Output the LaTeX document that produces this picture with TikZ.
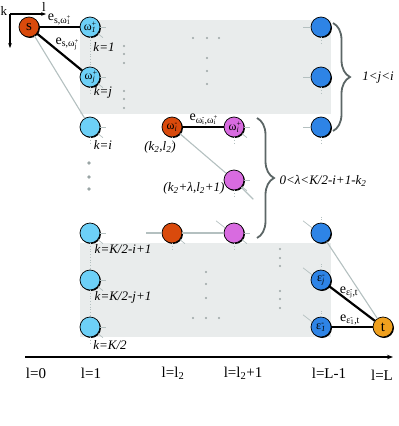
\documentclass[tikz,border=0pt]{standalone}
\usepackage{fontspec}
\setmainfont{Liberation Serif}
\usetikzlibrary{decorations.pathreplacing,shadows,arrows.meta}

\definecolor{sorange}{HTML}{D94A0C}
\definecolor{lblue}{HTML}{6DD0F7}
\definecolor{dblue}{HTML}{2E84E6}
\definecolor{mgenta}{HTML}{D86BE0}
\definecolor{torange}{HTML}{F0A01E}
\definecolor{panel}{HTML}{E9ECEC}
\definecolor{edgegray}{HTML}{B4C0C0}
\definecolor{bracegray}{HTML}{5C6666}
\definecolor{dotgray}{HTML}{9AA5A5}

% super- and subscript stacked
\newcommand{\ud}[2]{\rlap{\textsuperscript{#1}}\textsubscript{#2}}

\begin{document}
\begin{tikzpicture}[x=1pt,y=-1pt,
  vtx/.style={circle, draw=black, line width=0.7pt, minimum size=20pt, inner sep=0pt,
    font=\fontsize{12}{12}\selectfont,
    general shadow={fill=black, shadow xshift=1pt, shadow yshift=-1pt}},
  heavy/.style={line width=2.2pt, black},
  light/.style={line width=1.1pt, edgegray},
  stub/.style={line width=0.7pt, edgegray},
  lbl/.style={font=\fontsize{13}{13}\selectfont\itshape, inner sep=1pt},
  axlbl/.style={font=\fontsize{15}{15}\selectfont, inner sep=1pt},
  elbl/.style={font=\fontsize{14}{14}\selectfont, inner sep=1pt},
  curly/.style={decorate, decoration={brace, amplitude=17pt, aspect=0.5},
    line width=1.8pt, bracegray}]
  \useasboundingbox (0,0) rectangle (399,426);

  % shaded panels
  \fill[panel] (80,20) rectangle (331,114);
  \fill[panel] (80,243) rectangle (331,337);

  % k/l axes
  \coordinate (org) at (10,14);
  \coordinate (lend) at (46,14);
  \coordinate (kend) at (10,48);
  \draw[line width=1.2pt, -{Stealth[length=5pt]}] (org) -- (lend);
  \draw[line width=1.2pt, -{Stealth[length=5pt]}] (org) -- (kend);
  \node[axlbl, font=\fontsize{13}{13}\selectfont] (kax) at (4,11) {k};
  \node[axlbl, font=\fontsize{13}{13}\selectfont] (lax) at (44,6.5) {l};

  % vertices
  \node[vtx, fill=sorange, font=\fontsize{15}{15}\selectfont] (s) at (29,27) {s};
  \node[vtx, fill=lblue] (wone) at (90,27) {ω\ud{+}{\itshape 1}};
  \node[vtx, fill=lblue] (wj) at (90,77) {ω\ud{+}{\itshape j}};
  \node[vtx, fill=lblue] (ki) at (90,127) {};
  \node[vtx, fill=sorange] (wim) at (172,127) {ω\ud{-}{\itshape i}};
  \node[vtx, fill=mgenta] (wip) at (234,127) {ω\ud{+}{\itshape i}};
  \node[vtx, fill=mgenta] (lam) at (234,180) {};
  \node[vtx, fill=lblue] (kii) at (90,233) {};
  \node[vtx, fill=sorange] (ob) at (172,233) {};
  \node[vtx, fill=mgenta] (mb) at (234,233) {};
  \node[vtx, fill=lblue] (kjj) at (90,280) {};
  \node[vtx, fill=lblue] (kk) at (90,327) {};
  \foreach \y/\n in {27/ra, 77/rb, 127/rc, 233/rd}
    \node[vtx, fill=dblue] (\n) at (321,\y) {};
  \node[vtx, fill=dblue] (ej) at (321,280) {ε\ud{-}{\itshape j}};
  \node[vtx, fill=dblue] (eone) at (321,327) {ε\ud{-}{\itshape 1}};
  \node[vtx, fill=torange, font=\fontsize{15}{15}\selectfont] (t) at (383,327) {t};

  % short stubs of the lattice
  \foreach \n in {wone,wj,ki,kii,kjj,kk,wim,wip,ob,mb,lam} {
    \draw[stub] (\n.east) -- ++(6,0);
    \draw[stub] (\n.-40) -- ++(5,4);
    \draw[stub, dotted] (\n.south) -- ++(0,7);
  }
  \foreach \n in {ra,rb,rc} {
    \draw[stub] (\n.west) -- ++(-8,0);
    \draw[stub, dotted] (\n.south) -- ++(0,7);
  }
  \foreach \n in {rd,ej,eone} {
    \draw[stub] (\n.150) -- ++(-9,-7);
    \draw[stub, dotted] (\n.north) -- ++(0,-7);
  }
  \draw[stub] (mb.150) -- ++(-9,-7);
  \draw[stub, dotted] (kii) -- (kjj);
  \draw[stub, dotted] (kjj) -- (kk);
  \draw[stub, dotted] (wone) -- (wj);

  % gray edges
  \draw[light] (s) -- (ki);
  \draw[light] (wim) -- (lam);
  \draw[light] (lam.-45) -- ++(12,12);
  \draw[light] (ob) -- (mb);
  \draw[light] (ob.west) -- ++(-16,0);
  \draw[light] (rd) -- (t);

  % path edges
  \draw[heavy] (s) -- (wone)
    node[midway, above=0pt, elbl] {e\textsubscript{s,ω\ud{+}{1}}};
  \draw[heavy] (s) -- (wj)
    node[midway, above, xshift=7pt, elbl] {e\textsubscript{s,ω\ud{+}{j}}};
  \draw[heavy] (wim) -- (wip)
    node[midway, above, elbl] {e\textsubscript{ω\ud{-}{i},ω\ud{+}{i}}};
  \draw[heavy] (ej) -- (t)
    node[midway, above=3pt, xshift=-3pt, elbl] {e\textsubscript{ε\ud{-}{j},t}};
  \draw[heavy] (eone) -- (t)
    node[midway, above, xshift=-2pt, elbl] {e\textsubscript{ε\ud{-}{1},t}};

  % dots
  \foreach \x/\y in {193/38, 207/38, 219/38, 207/58, 207/71, 207/84,
      124/46, 124/54, 124/63, 124/91, 124/99, 124/108,
      206/272, 206/284, 206/298, 193/318, 206/318, 219/318,
      280/249, 280/258, 280/266, 280/291, 280/299, 280/308}
    \fill[dotgray] (\x,\y) circle (1.2pt);
  \foreach \y in {163,177,189}
    \fill[dotgray] (89,\y) circle (1.8pt);

  % vertex labels
  \node[lbl] (lone) at (104,47) {k=1};
  \node[lbl] (lj) at (103,92) {k=j};
  \node[lbl] (li) at (103,145) {k=i};
  \node[lbl] (lkl) at (160,147) {(k\textsubscript{2},l\textsubscript{2})};
  \node[lbl] (lkll) at (194,188) {(k\textsubscript{2}+λ,l\textsubscript{2}+1)};
  \node[lbl] (lii) at (123,249) {k=K/2-i+1};
  \node[lbl] (ljj) at (123,297) {k=K/2-j+1};
  \node[lbl] (lk) at (110,345) {k=K/2};

  % braces
  \draw[curly] (333,23) -- (333,131);
  \node[lbl] (rj) at (378,78) {1<j<i};
  \draw[curly] (257,118) -- (257,238);
  \node[lbl] (rl) at (323,181) {0<λ<K/2-i+1-k\textsubscript{2}};

  % l axis
  \coordinate (axs) at (25,357);
  \coordinate (axe) at (393,357);
  \draw[line width=1.2pt, -{Stealth[length=6pt]}] (axs) -- (axe);
  \node[axlbl] (lzero) at (36,373) {l=0};
  \node[axlbl] (lonex) at (91,373) {l=1};
  \node[axlbl] (ltwo) at (173,373) {l=l\textsubscript{2}};
  \node[axlbl] (ltwop) at (243,373) {l=l\textsubscript{2}+1};
  \node[axlbl] (lLm) at (329,373) {l=L-1};
  \node[axlbl] (lL) at (382,375) {l=L};
\end{tikzpicture}
\end{document}
